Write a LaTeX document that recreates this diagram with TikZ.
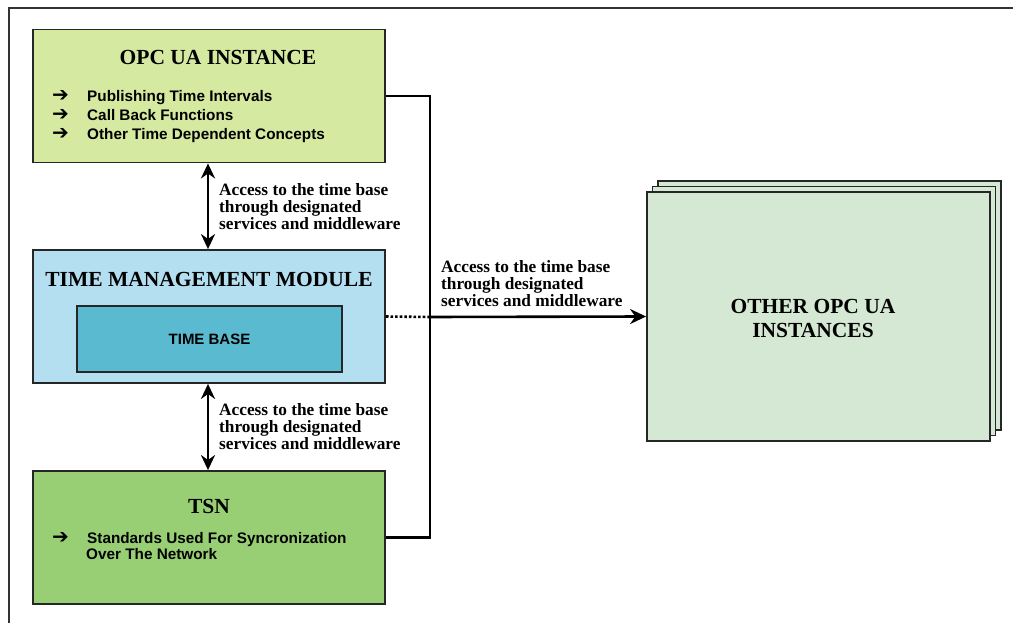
\documentclass[tikz,border=0pt]{standalone}
\usepackage{fontspec}
\setmainfont{Liberation Serif}
\setsansfont{Liberation Sans}
\newfontfamily\symfont{DejaVu Sans}
\usetikzlibrary{arrows.meta}

\definecolor{opcgreen}{RGB}{214,233,161}
\definecolor{tmmblue}{RGB}{180,223,240}
\definecolor{basecyan}{RGB}{90,187,208}
\definecolor{tsngreen}{RGB}{152,207,116}
\definecolor{othergreen}{RGB}{213,232,212}

\tikzset{
	block/.style={draw=black!85, line width=1.8pt, minimum width=352pt, minimum height=133pt},
	title/.style={font=\bfseries\fontsize{21.5}{24}\selectfont, align=center},
	item/.style={font=\sffamily\bfseries\fontsize{15.3}{19}\selectfont, align=left, anchor=west, inner sep=0pt},
	note/.style={font=\bfseries\fontsize{17.3}{17}\selectfont, align=left, anchor=west, inner sep=0pt},
	link/.style={line width=2.6pt},
	>={Stealth[length=15pt,width=14pt]},
}
\newcommand{\bul}{\makebox[35pt][l]{\smash{\symfont\fontsize{20}{19}\selectfont ➔}}}

\begin{document}
\begin{tikzpicture}[x=1pt, y=-1pt]
	\useasboundingbox (0,0) rectangle (1013,623);
	\draw[line width=1.8pt, black!80] (9,623) -- (9,8) -- (1013,8);

	% left column
	\node[block, fill=opcgreen] (opc) at (209,96) {};
	\node[title] (opct) at (218,57) {OPC UA INSTANCE};
	\node[item] (opcl) at (52,116.5) {\bul Publishing Time Intervals\\ \bul Call Back Functions\\ \bul Other Time Dependent Concepts};

	\node[block, fill=tmmblue] (tmm) at (209,316.5) {};
	\node[title] (tmmt) at (209,279) {TIME MANAGEMENT MODULE};
	\node[draw=black!85, line width=1.8pt, fill=basecyan, minimum width=265pt, minimum height=66pt,
		font=\sffamily\bfseries\fontsize{15}{17}\selectfont] (base) at (209.5,339) {TIME BASE};

	\node[block, fill=tsngreen] (tsn) at (209,537.5) {};
	\node[title] (tsnt) at (209,506) {TSN};
	\node[item, font=\sffamily\bfseries\fontsize{15.3}{14}\selectfont] (tsnl) at (52,546) {\bul Standards Used For Syncronization\\ \makebox[34pt]{}Over The Network};

	% other instances (stacked)
	\node[block, fill=othergreen, minimum width=343pt, minimum height=249pt] (others3) at (829.5,305.5) {};
	\node[block, fill=othergreen, minimum width=343pt, minimum height=249pt] (others2) at (824,311) {};
	\node[block, fill=othergreen, minimum width=343pt, minimum height=249pt] (others) at (818.5,316.5) {};
	\node[title] (otherst) at (813,318) {OTHER OPC UA\\ INSTANCES};

	% connectors
	\coordinate (junc) at (430,317);
	\draw[link, <->] (opc.south -| 208,0) -- (tmm.north -| 208,0);
	\draw[link, <->] (tmm.south -| 208,0) -- (tsn.north -| 208,0);
	\draw[link] (opc.east) -| (junc) |- (tsn.east);
	\draw[link, dotted] (tmm.east) -- (junc);
	\draw[link, -{Stealth[length=16pt,width=15pt]}] (junc) -- (others.west);

	\node[note] (acc1) at (219,207) {Access to the time base\\ through designated\\ services and middleware};
	\node[note] (acc2) at (219,427) {Access to the time base\\ through designated\\ services and middleware};
	\node[note] (acc3) at (441,284) {Access to the time base\\ through designated\\ services and middleware};
\end{tikzpicture}
\end{document}
